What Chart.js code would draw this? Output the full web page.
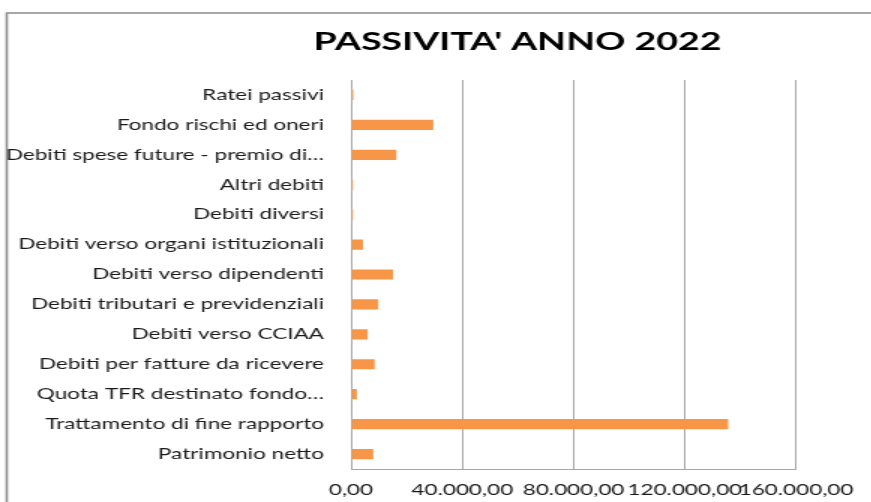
<!DOCTYPE html>
<html>
<head>
<meta charset="utf-8">
<script src="https://cdn.jsdelivr.net/npm/chart.js@4"></script>
<style>
    html, body { margin: 0; padding: 0; background: #fff; overflow: hidden; }
    /* the original picture is stretched sideways, so the chart is too */
    #wrap { width: 581px; height: 502px; transform: scaleX(1.5); transform-origin: 0 0; }
</style>
</head>
<body>
<div id="wrap"><canvas id="passivita"></canvas></div>
<script>
const chartTitle = "PASSIVITA' ANNO 2022";

const categories = [
    'Ratei passivi',
    'Fondo rischi ed oneri',
    'Debiti spese future - premio di…',
    'Altri debiti',
    'Debiti diversi',
    'Debiti verso organi istituzionali',
    'Debiti verso dipendenti',
    'Debiti tributari e previdenziali',
    'Debiti verso CCIAA',
    'Debiti per fatture da ricevere',
    'Quota TFR destinato fondo…',
    'Trattamento di fine rapporto',
    'Patrimonio netto'
];

const values = [800, 29600, 16300, 700, 700, 4300, 15100, 9800, 6000, 8500, 2100, 135600, 8000];

const tickValues = [0, 40000, 80000, 120000, 160000];
const tickLabels = ['0,00', '40.000,00', '80.000,00', '120.000,00', '160.000,00'];

// frame round the chart and the title, drawn by hand
const framePlugin = {
    id: 'frame',
    beforeDraw(chart) {
        const ctx = chart.ctx;
        ctx.save();
        ctx.strokeStyle = '#8c8c8c';
        ctx.lineWidth = 1.6;
        ctx.beginPath();
        ctx.moveTo(4.5, 560);
        ctx.lineTo(4.5, 13);
        ctx.lineTo(600, 13);
        ctx.stroke();
        ctx.restore();
    },
    afterDraw(chart) {
        const ctx = chart.ctx;
        ctx.save();
        ctx.fillStyle = '#000';
        ctx.font = 'bold 25px Lato';
        ctx.textAlign = 'center';
        ctx.textBaseline = 'middle';
        ctx.fillText(chartTitle, 345, 42);
        ctx.restore();
    }
};

document.addEventListener('DOMContentLoaded', function () {
    const ctx = document.getElementById('passivita').getContext('2d');
    new Chart(ctx, {
        type: 'bar',
        data: {
            labels: categories,
            datasets: [{
                data: values,
                backgroundColor: '#f79646',
                borderWidth: 0,
                barPercentage: 0.34,
                categoryPercentage: 1
            }]
        },
        options: {
            indexAxis: 'y',
            responsive: true,
            maintainAspectRatio: false,
            animation: false,
            layout: { padding: { left: 0, right: 43, top: 80, bottom: 0 } },
            plugins: {
                legend: { display: false },
                title: { display: false },
                tooltip: { enabled: false }
            },
            scales: {
                x: {
                    min: 0,
                    max: 160000,
                    afterBuildTicks(scale) {
                        scale.ticks = tickValues.map(v => ({ value: v }));
                    },
                    afterFit(scale) { scale.height = 33; },
                    grid: { color: '#a6a6a6', lineWidth: 1, drawTicks: false },
                    border: { color: '#a6a6a6', width: 1 },
                    ticks: {
                        padding: 12,
                        maxRotation: 0,
                        autoSkip: false,
                        color: '#1a1a1a',
                        font: { family: 'Lato', size: 15 },
                        callback: (v, i) => tickLabels[i]
                    }
                },
                y: {
                    afterFit(scale) { scale.width = 234; },
                    grid: { display: false },
                    border: { color: '#a6a6a6', width: 1 },
                    ticks: {
                        padding: 10,
                        autoSkip: false,
                        color: '#1a1a1a',
                        font: { family: 'Lato', size: 15 }
                    }
                }
            }
        },
        plugins: [framePlugin]
    });
});
</script>
</body>
</html>
